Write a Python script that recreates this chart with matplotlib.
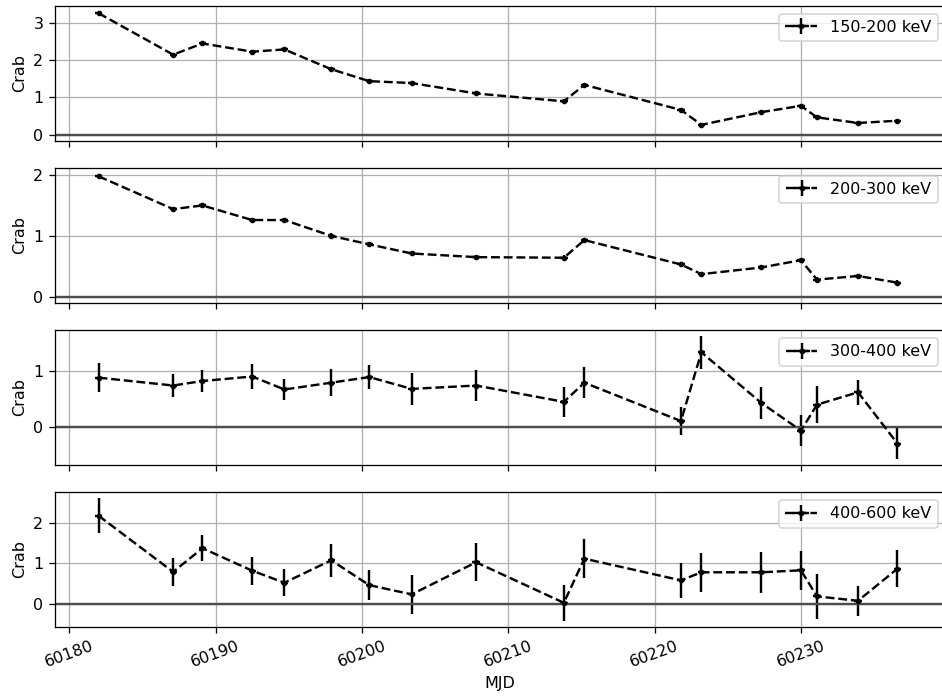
import matplotlib.pyplot as plt

# =====================================================================
# Data
# =====================================================================
mjd = [60182.0, 60187.1, 60189.1, 60192.5, 60194.7, 60197.9, 60200.5, 60203.4,
       60207.8, 60213.8, 60215.2, 60221.8, 60223.2, 60227.3, 60230.0, 60231.1,
       60233.9, 60236.6]
mjd_err = [0.25] * len(mjd)

bands = ["150-200 keV", "200-300 keV", "300-400 keV", "400-600 keV"]

flux_150_200 = [3.25, 2.14, 2.44, 2.22, 2.28, 1.75, 1.43, 1.38, 1.10, 0.89,
                1.33, 0.66, 0.26, 0.60, 0.77, 0.46, 0.31, 0.37]
err_150_200 = [0.04] * len(mjd)

flux_200_300 = [1.98, 1.44, 1.50, 1.26, 1.26, 1.00, 0.86, 0.71, 0.65, 0.64,
                0.93, 0.53, 0.37, 0.48, 0.60, 0.28, 0.34, 0.23]
err_200_300 = [0.04] * len(mjd)

flux_300_400 = [0.88, 0.74, 0.82, 0.90, 0.67, 0.79, 0.89, 0.68, 0.74, 0.45,
                0.79, 0.11, 1.33, 0.43, -0.06, 0.40, 0.62, -0.29]
err_300_400 = [0.26, 0.20, 0.20, 0.22, 0.19, 0.24, 0.21, 0.29, 0.28, 0.27,
               0.28, 0.25, 0.29, 0.29, 0.28, 0.33, 0.22, 0.27]

flux_400_600 = [2.19, 0.79, 1.38, 0.82, 0.52, 1.08, 0.46, 0.23, 1.03, 0.02,
                1.12, 0.58, 0.78, 0.78, 0.83, 0.18, 0.07, 0.87]
err_400_600 = [0.44, 0.34, 0.33, 0.35, 0.33, 0.41, 0.37, 0.48, 0.47, 0.45,
               0.48, 0.44, 0.48, 0.51, 0.49, 0.56, 0.37, 0.46]

fluxes = [flux_150_200, flux_200_300, flux_300_400, flux_400_600]
errors = [err_150_200, err_200_300, err_300_400, err_400_600]

# =====================================================================
# Plot
# =====================================================================
DPI = 115
fig, axes = plt.subplots(4, 1, figsize=(942 / DPI, 699 / DPI), dpi=DPI, sharex=True)
fig.subplots_adjust(left=0.058, right=1.004, top=0.992, bottom=0.103, hspace=0.2)

for ax, band, flux, err in zip(axes, bands, fluxes, errors):
    ax.errorbar(mjd, flux, xerr=mjd_err, yerr=err, fmt='k.--', markersize=5,
                label=band)
    ax.axhline(0, color='0.3', lw=1.5)
    ax.grid(True)
    ax.set_ylabel("Crab")
    ax.legend(loc='upper right')

axes[-1].set_xlim(60179.0, 60239.9)
axes[-1].set_xlabel("MJD")
plt.setp(axes[-1].get_xticklabels(), rotation=20)

plt.savefig("out.png", dpi=DPI)
